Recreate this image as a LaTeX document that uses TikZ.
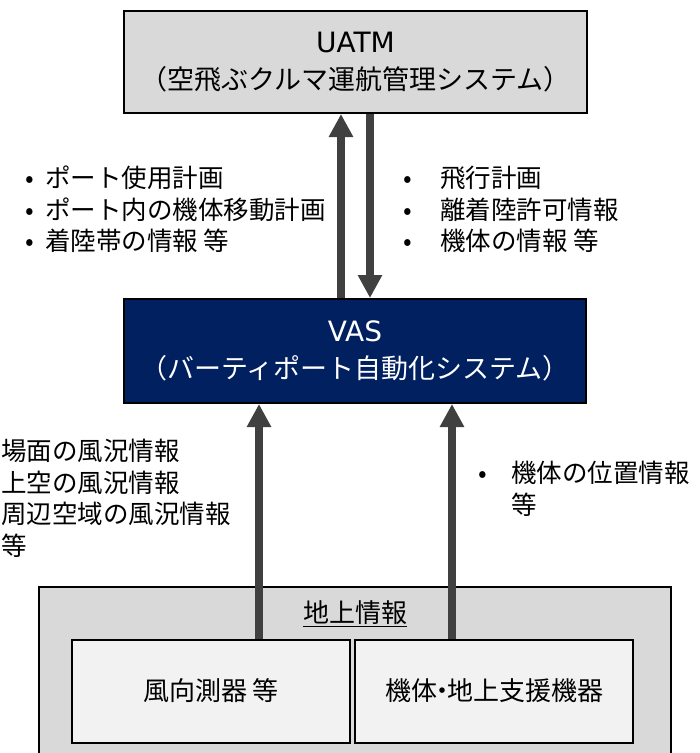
\documentclass[tikz,border=0pt]{standalone}
\usepackage{fontspec}
\setmainfont{Noto Sans CJK JP}
\newfontfamily\latinfont{DejaVu Sans}
\usetikzlibrary{arrows.meta,calc}
\definecolor{boxgray}{HTML}{D9D9D9}
\definecolor{innergray}{HTML}{F2F2F2}
\definecolor{navy}{HTML}{002060}
\definecolor{arrgray}{HTML}{404040}
\tikzset{
  sysbox/.style={draw=black,line width=2pt,inner sep=0pt,align=center,
    font=\fontsize{27}{37}\selectfont},
  subbox/.style={draw=black,line width=2pt,fill=innergray,inner sep=0pt,align=center,
    font=\fontsize{26}{31}\selectfont},
  lbl/.style={anchor=north west,inner sep=0pt,align=left,
    font=\fontsize{25.5}{31.5}\selectfont},
  bigarrow/.style={draw=arrgray,line width=8pt,-{Triangle[width=23pt,length=23pt]}},
}
\newcommand{\bul}[1]{\makebox[#1][l]{•}}
\begin{document}
\begin{tikzpicture}[x=1pt,y=-1pt]
\useasboundingbox[fill=white] (0,0) rectangle (700,753);
% ground info container
\path[fill=boxgray,draw=black,line width=2pt] (39,760) -- (39,587) -- (671,587) -- (671,760);
\node[inner sep=0pt,font=\fontsize{26}{31}\selectfont] (gtitle) at (355,614) {\underline{地上情報}};
\node[subbox,minimum width=278pt,minimum height=103pt] (wind) at (211,691) {風向測器 等};
\node[subbox,minimum width=278pt,minimum height=103pt] (equip) at (494,691) {機体\makebox[10pt][c]{・}地上支援機器};
% systems
\node[sysbox,fill=boxgray,minimum width=463pt,minimum height=102pt] (uatm) at (355.5,62) {{\latinfont\fontsize{28}{37}\selectfont UATM}\\（空飛ぶクルマ運航管理システム）};
\node[sysbox,fill=navy,text=white,minimum width=462pt,minimum height=104pt] (vas) at (355,351) {{\latinfont\fontsize{28}{37}\selectfont VAS}\\（バーティポート自動化システム）};
% arrows
\draw[bigarrow] (vas.north -| 341,0) -- (uatm.south -| 341,0);
\draw[bigarrow] (uatm.south -| 370,0) -- (vas.north -| 370,0);
\draw[bigarrow] (wind.north -| 259,0) -- (vas.south -| 259,0);
\draw[bigarrow] (equip.north -| 452,0) -- (vas.south -| 452,0);
% labels
\node[lbl] (lblup) at (25,166) {\bul{20pt}ポート使用計画\\\bul{20pt}ポート内の機体移動計画\\\bul{20pt}着陸帯の情報 等};
\node[lbl] (lbldown) at (403,166) {\bul{37pt}飛行計画\\\bul{37pt}離着陸許可情報\\\bul{37pt}機体の情報 等};
\node[lbl] (lblwind) at (1,439) {場面の風況情報\\上空の風況情報\\周辺空域の風況情報\\等};
\node[lbl] (lblpos) at (478,461) {\bul{33pt}機体の位置情報\\\hspace*{33pt}等};
\end{tikzpicture}
\end{document}
